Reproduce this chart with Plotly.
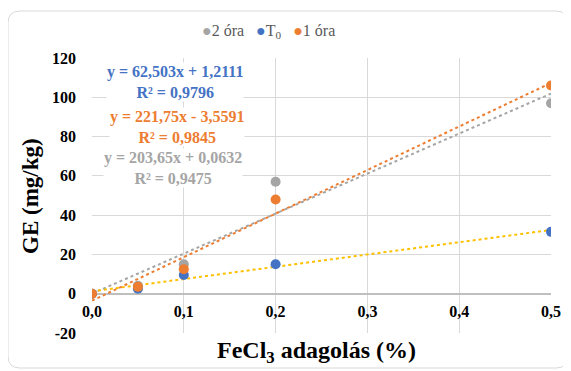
import plotly.graph_objects as go

# ---- data ----
x_vals = [0.0, 0.05, 0.1, 0.2, 0.5]
two_ora = [0.0, 4.0, 15.0, 57.0, 97.0]
t0 = [0.0, 2.5, 9.5, 15.0, 31.5]
one_ora = [0.0, 3.5, 12.5, 48.0, 106.0]

series_names = ["2 óra", "T<sub>0</sub>", "1 óra"]
series_values = [two_ora, t0, one_ora]
series_colors = ["#A5A5A5", "#4472C4", "#ED7D31"]

# trendline coefficients (from chart labels)
trend_slopes = [203.65, 62.503, 221.75]
trend_intercepts = [0.0632, 1.2111, -3.5591]
trend_colors = ["#A5A5A5", "#FFC000", "#ED7D31"]
trend_labels = [
    "y = 203,65x + 0,0632<br>R² = 0,9475",
    "y = 62,503x + 1,2111<br>R² = 0,9796",
    "y = 221,75x - 3,5591<br>R² = 0,9845",
]
label_colors = ["#A5A5A5", "#4472C4", "#ED7D31"]
trend_x = [0.0, 0.5]

x_tickvals = [0.0, 0.1, 0.2, 0.3, 0.4, 0.5]
x_ticktext = ["0,0", "0,1", "0,2", "0,3", "0,4", "0,5"]
y_tickvals = [-20, 0, 20, 40, 60, 80, 100, 120]
y_ticktext = ["-20", "0", "20", "40", "60", "80", "100", "120"]

# page body offsets the figure by 8px
OFF = 8
W, H = 563, 363
ML, MT = 92 - OFF, 58 - OFF
MR = W - (551 - OFF)
MB = H - (333 - OFF)
PW, PH = W - ML - MR, H - MT - MB

def px_x(p):  # page pixel -> paper
    return (p - OFF - ML) / PW

def px_y(p):
    return (H - MB - (p - OFF)) / PH

FONT = "Liberation Serif"

fig = go.Figure()

for i in range(3):
    ty = [trend_slopes[i] * xx + trend_intercepts[i] for xx in trend_x]
    fig.add_trace(go.Scatter(x=trend_x, y=ty, mode="lines",
                             line=dict(color=trend_colors[i], width=2, dash="dot"),
                             showlegend=False, hoverinfo="skip"))

for i in range(3):
    fig.add_trace(go.Scatter(x=x_vals, y=series_values[i], mode="markers",
                             marker=dict(color=series_colors[i], size=10),
                             name=series_names[i], showlegend=False))

# equation labels
label_pos = {0: (173, 168), 1: (175, 82), 2: (177, 127)}
for i in [1, 2, 0]:
    cx, cy = label_pos[i]
    fig.add_annotation(x=px_x(cx), y=px_y(cy), xref="paper", yref="paper",
                       xanchor="center", yanchor="middle",
                       text="<b>" + trend_labels[i].replace("<br>", "</b><br><b>") + "</b>",
                       showarrow=False, align="center",
                       bgcolor="white", borderpad=0,
                       font=dict(family=FONT, size=16, color=label_colors[i]))

# legend (manual, compact)
legend_text = "   ".join(
    f'<span style="color:{c}">●</span>{n}' for n, c in zip(series_names, series_colors)
)
fig.add_annotation(x=px_x(268), y=px_y(31), xref="paper", yref="paper",
                   xanchor="center", yanchor="middle",
                   text=legend_text, showarrow=False,
                   font=dict(family=FONT, size=16, color="#595959"))

# rounded outer frame
x0, x1, y0, y1, r = 8, 568, 11, 368, 12
pts = lambda a, b: f"{px_x(a)},{px_y(b)}"
path = (f"M {pts(x0 + r, y0)} L {pts(x1 - r, y0)} Q {pts(x1, y0)} {pts(x1, y0 + r)} "
        f"L {pts(x1, y1 - r)} Q {pts(x1, y1)} {pts(x1 - r, y1)} "
        f"L {pts(x0 + r, y1)} Q {pts(x0, y1)} {pts(x0, y1 - r)} "
        f"L {pts(x0, y0 + r)} Q {pts(x0, y0)} {pts(x0 + r, y0)} Z")
fig.add_shape(type="path", path=path, xref="paper", yref="paper",
              line=dict(color="#D9D9D9", width=1), layer="below")

fig.update_layout(
    width=W, height=H,
    margin=dict(l=ML, r=MR, t=MT, b=MB, autoexpand=False),
    paper_bgcolor="white", plot_bgcolor="white",
    showlegend=False,
    font=dict(family=FONT, color="black"),
    xaxis=dict(range=[0, 0.5], tickvals=x_tickvals,
               ticktext=[f"<b>{t}</b>" for t in x_ticktext],
               showgrid=True, gridcolor="#D9D9D9", gridwidth=1,
               zeroline=False, showline=False, automargin=False,
               anchor="free", position=20 / 140,
               ticks="", ticklabelstandoff=6,
               tickfont=dict(family=FONT, size=16, color="black")),
    yaxis=dict(range=[-20, 120], tickvals=y_tickvals,
               ticktext=[f"<b>{t}</b>" for t in y_ticktext],
               showgrid=True, gridcolor="#D9D9D9", gridwidth=1,
               zeroline=True, zerolinecolor="#BFBFBF", zerolinewidth=1.5,
               automargin=False,
               ticks="", ticklabelstandoff=15,
               tickfont=dict(family=FONT, size=16, color="black")),
)

fig.add_annotation(x=px_x(30), y=px_y(196), xref="paper", yref="paper",
                   xanchor="center", yanchor="middle",
                   text="<b>GE (mg/kg)</b>", textangle=-90, showarrow=False,
                   font=dict(family=FONT, size=23, color="black"))
fig.add_annotation(x=px_x(316), y=px_y(352), xref="paper", yref="paper",
                   xanchor="center", yanchor="middle",
                   text="<b>FeCl<sub>3</sub> adagolás (%)</b>", showarrow=False,
                   font=dict(family=FONT, size=24, color="black"))

fig.write_html("out.html")
